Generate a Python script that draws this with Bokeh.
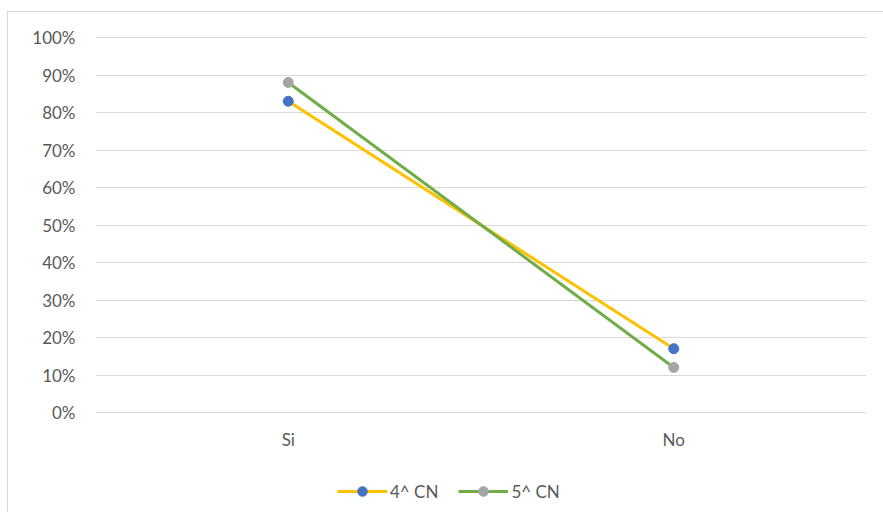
from bokeh.plotting import figure
from bokeh.models import (FactorRange, Range1d, NumeralTickFormatter, FixedTicker, Legend,
                          LegendItem, ColumnDataSource)
from bokeh.core.properties import value
from bokeh.embed import file_html
from bokeh.resources import INLINE

categories = ["Si", "No"]
series_names = ["4^ CN", "5^ CN"]
values_4 = [0.83, 0.17]
values_5 = [0.88, 0.12]
y_ticks = [i / 10 for i in range(11)]

FONT = "Lato"
GRAY = "#595959"
FS = "17px"

# layout: 0..1 spans 375px; frame extends below 0 to host category labels and legend
PX = 375.0
y_end = 1 + 2 / PX
y_start = y_end - 477 / PX

p = figure(frame_width=771, frame_height=477, x_range=FactorRange(*categories),
           y_range=Range1d(y_start, y_end), x_axis_location=None,
           output_backend="svg", toolbar_location=None)
p.min_border_left = 87
p.min_border_right = 17
p.min_border_top = 23
p.min_border_bottom = 0
p.outline_line_color = None
p.background_fill_color = "white"
p.border_fill_color = "white"
p.styles = {"border-left": "1px solid #D9D9D9", "border-top": "1px solid #D9D9D9",
            "margin-left": "7px", "margin-top": "11px"}

p.xgrid.grid_line_color = None
p.ygrid.grid_line_color = "#D9D9D9"
p.ygrid.grid_line_width = 1

p.yaxis.ticker = FixedTicker(ticks=y_ticks)
p.yaxis.formatter = NumeralTickFormatter(format="0%")
p.yaxis.axis_line_color = None
p.yaxis.major_tick_line_color = None
p.yaxis.minor_tick_line_color = None
p.yaxis.major_tick_out = 0
p.yaxis.minor_tick_out = 0
p.yaxis.major_label_text_color = GRAY
p.yaxis.major_label_text_font = FONT
p.yaxis.major_label_text_font_size = FS
p.yaxis.major_label_standoff = 20

# category labels below the 0% line
label_src = ColumnDataSource(dict(x=categories, y=[-27 / PX] * len(categories), text=categories))
p.text(x="x", y="y", text="text", source=label_src, text_align="center", text_baseline="middle",
       text_color=GRAY, text_font=value(FONT), text_font_size=FS)

l1 = p.line(categories, values_4, line_color="#FFC000", line_width=3)
s1 = p.scatter(categories, values_4, size=10, fill_color="#4472C4", line_color="#4472C4")
l2 = p.line(categories, values_5, line_color="#70AD47", line_width=3)
s2 = p.scatter(categories, values_5, size=10, fill_color="#A5A5A5", line_color="#A5A5A5")

legend = Legend(items=[LegendItem(label=series_names[0], renderers=[l1, s1]),
                       LegendItem(label=series_names[1], renderers=[l2, s2])],
                orientation="horizontal", location=(242, 9))
legend.label_text_font = FONT
legend.label_text_font_size = FS
legend.label_text_color = GRAY
legend.border_line_color = None
legend.background_fill_alpha = 0
legend.glyph_width = 50
legend.glyph_height = 24
legend.label_height = 24
legend.label_standoff = 3
legend.spacing = 20
legend.padding = 0
legend.margin = 0
p.add_layout(legend)

open("out.html", "w").write(file_html(p, INLINE))
